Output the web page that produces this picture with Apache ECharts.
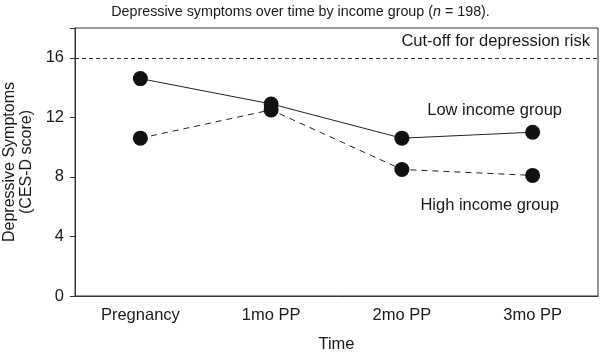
<!DOCTYPE html>
<html>
<head>
<meta charset="utf-8">
<script src="https://cdn.jsdelivr.net/npm/echarts@6/dist/echarts.min.js"></script>
<style>
  html, body { margin: 0; padding: 0; background: #fff; }
  #main { width: 601px; height: 352px; }
</style>
</head>
<body>
<div id="main"></div>
<script>
// data
var categories = ['Pregnancy', '1mo PP', '2mo PP', '3mo PP'];
var lowIncome = [14.6, 12.9, 10.6, 11.0];
var highIncome = [10.6, 12.5, 8.5, 8.1];
var cutOff = 16;
var yTicks = [0, 4, 8, 12, 16];

var chart = echarts.init(document.getElementById('main'));
var font = 'Liberation Sans, Arial, sans-serif';
var fs = 16.5;

// put the group names next to the last point
var lowData = lowIncome.map(function (v, i) {
  if (i === lowIncome.length - 1) {
    return { value: v, label: { show: true, position: 'inside', offset: [-38, -22], formatter: 'Low income group' } };
  }
  return v;
});
var highData = highIncome.map(function (v, i) {
  if (i === highIncome.length - 1) {
    return { value: v, label: { show: true, position: 'inside', offset: [-43, 30], formatter: 'High income group' } };
  }
  return v;
});

var option = {
  backgroundColor: '#fff',
  textStyle: { fontFamily: font },
  title: {
    text: '{a|Depressive symptoms over time by income group (}{i|n}{a| = 198).}',
    left: 'center',
    top: 0,
    textStyle: {
      fontWeight: 'normal',
      rich: {
        a: { fontSize: 14.3, color: '#1a1a1a', fontFamily: font, fontWeight: 'normal' },
        i: { fontSize: 14.3, color: '#1a1a1a', fontStyle: 'italic', fontFamily: font, fontWeight: 'normal' }
      }
    }
  },
  grid: {
    left: 75, right: 3, top: 28, bottom: 56,
    outerBoundsMode: 'none',
    containLabel: false,
    show: true, borderColor: '#333', borderWidth: 1
  },
  xAxis: {
    type: 'category',
    data: categories,
    name: 'Time',
    nameLocation: 'middle',
    nameGap: 40,
    nameTextStyle: { fontSize: fs, color: '#1a1a1a' },
    axisLine: { lineStyle: { color: '#333', width: 1 } },
    axisTick: { length: 5, lineStyle: { color: '#333' } },
    axisLabel: { fontSize: fs, color: '#1a1a1a', margin: 11 }
  },
  yAxis: {
    type: 'value',
    min: 0,
    max: 18,
    interval: 4,
    name: 'Depressive Symptoms\n(CES-D score)',
    nameLocation: 'middle',
    nameGap: 39,
    nameTextStyle: { fontSize: 16, color: '#1a1a1a', lineHeight: 17 },
    axisLine: { show: true, lineStyle: { color: '#333', width: 1 } },
    axisTick: { show: true, length: 5, lineStyle: { color: '#333' } },
    splitLine: { show: false },
    axisLabel: {
      fontSize: fs, color: '#1a1a1a', margin: 11,
      formatter: function (v) { return yTicks.indexOf(v) >= 0 ? v : ''; }
    }
  },
  series: [
    {
      name: 'Low income group',
      type: 'line',
      data: lowData,
      symbol: 'circle',
      symbolSize: 15,
      itemStyle: { color: '#111' },
      lineStyle: { color: '#222', width: 1 },
      label: { fontSize: fs, color: '#1a1a1a' },
      markLine: {
        silent: true,
        symbol: 'none',
        lineStyle: { color: '#333', type: [4, 3], width: 1 },
        label: {
          position: 'insideEndTop',
          formatter: 'Cut-off for depression risk',
          fontSize: fs, color: '#1a1a1a', distance: [8, 8]
        },
        data: [{ yAxis: cutOff }]
      }
    },
    {
      name: 'High income group',
      type: 'line',
      data: highData,
      symbol: 'circle',
      symbolSize: 15,
      itemStyle: { color: '#111' },
      lineStyle: { color: '#222', width: 1, type: [6, 5] },
      label: { fontSize: fs, color: '#1a1a1a' }
    }
  ]
};

chart.setOption(option);
</script>
</body>
</html>
